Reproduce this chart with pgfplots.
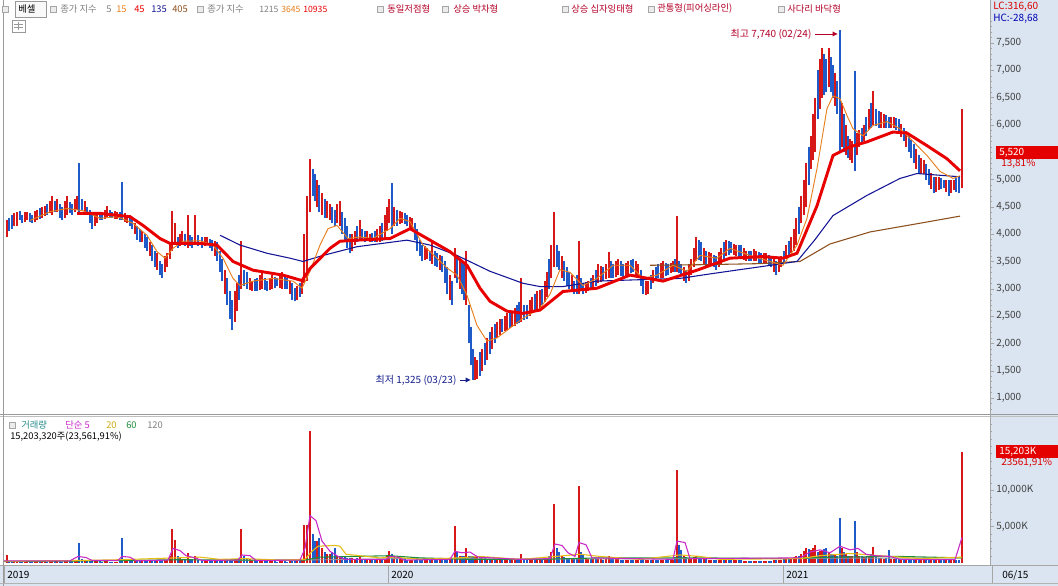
\documentclass[border=0pt]{standalone}
\usepackage{fontspec}
\setmainfont{Noto Sans CJK KR}
\usepackage{pgfplots}
\usepackage{pgfplotstable}
\pgfplotsset{compat=1.18}
\usetikzlibrary{arrows.meta}
\definecolor{panel}{RGB}{219,229,241}
\definecolor{cR}{RGB}{214,24,24}
\definecolor{cB}{RGB}{30,90,200}
\definecolor{maR}{RGB}{232,0,0}
\definecolor{maB}{RGB}{20,20,150}
\definecolor{maBr}{RGB}{140,80,30}
\definecolor{maO}{RGB}{232,128,30}
\definecolor{vM}{RGB}{200,40,200}
\definecolor{vY}{RGB}{230,190,20}
\definecolor{vG}{RGB}{30,140,60}
\definecolor{vGr}{RGB}{150,150,150}
\definecolor{txtR}{RGB}{180,0,40}
\definecolor{txtB}{RGB}{20,30,140}
\definecolor{teal}{RGB}{40,140,140}

% t lo hi volume(K) up(1)/down(0)
\pgfplotstableread{
t lo hi v c
7 3950 4250 1100 1
9 4050 4300 300 0
12 4100 4350 300 0
14 4150 4380 250 1
17 4150 4400 250 1
20 4250 4420 200 0
22 4200 4350 200 0
25 4220 4400 220 1
27 4250 4400 250 1
30 4230 4380 200 0
32 4200 4350 180 0
35 4230 4420 200 1
37 4250 4450 220 1
40 4280 4480 230 0
42 4300 4500 250 1
45 4330 4520 220 1
47 4350 4550 200 0
50 4380 4600 250 1
52 4350 4700 350 1
55 4400 4600 230 0
57 4400 4650 250 1
60 4300 4550 220 0
62 4250 4500 200 0
65 4300 4600 250 1
67 4350 4690 300 1
70 4380 4580 220 0
72 4350 4550 220 0
75 4400 4650 300 1
77 4450 4700 350 1
79 4400 5300 2740 0
82 4450 4650 600 0
85 4400 4600 450 1
87 4350 4500 400 0
90 4200 4450 380 0
92 4100 4350 350 0
95 4150 4350 280 1
97 4200 4350 250 1
100 4250 4400 220 0
102 4250 4400 200 0
105 4280 4450 230 1
107 4300 4520 250 1
110 4300 4450 200 0
112 4300 4400 180 0
115 4280 4420 190 1
117 4280 4400 200 1
120 4250 4400 300 0
122 4250 4950 3420 0
125 4220 4380 600 1
127 4200 4350 500 1
130 4150 4320 350 0
132 4100 4300 300 0
135 4000 4200 300 1
137 3900 4150 300 0
140 3850 4100 280 0
142 3850 4050 250 1
145 3750 4000 280 0
147 3700 3950 300 0
150 3600 3850 320 1
152 3500 3800 350 0
155 3400 3700 320 0
157 3350 3650 300 1
160 3250 3500 350 0
162 3200 3450 400 0
165 3300 3600 420 1
167 3400 3650 450 1
170 3550 3850 900 1
172 3700 4430 4660 1
175 3800 4200 3150 1
178 3750 3950 900 0
180 3780 4000 700 1
182 3800 4050 600 1
185 3780 4000 500 0
188 3750 4350 1370 1
190 3780 3980 600 0
192 3750 3950 500 0
195 3800 4350 960 1
198 3780 3980 450 0
202 3750 3950 400 0
205 3780 3950 350 1
207 3800 3950 300 1
210 3750 3920 280 0
212 3700 3900 250 0
215 3600 3880 280 1
217 3500 3850 300 0
220 3300 3700 320 0
222 3150 3550 350 0
225 2900 3350 380 1
227 2700 3200 400 0
230 2450 2950 450 0
232 2250 2800 500 0
235 2400 2950 550 1
237 2600 3100 600 1
239 2800 3250 700 0
241 3000 3870 4660 1
244 3050 3350 900 0
247 3000 3300 700 0
250 2980 3200 500 1
252 2950 3150 400 1
255 2950 3180 350 0
257 2950 3200 300 0
260 2980 3250 300 1
262 3000 3300 300 1
265 2970 3200 280 0
267 2950 3150 250 0
270 2980 3200 250 1
272 3000 3250 250 1
275 3020 3220 220 0
277 3050 3200 200 0
280 3020 3250 220 1
282 3000 3300 250 1
285 3000 3250 220 0
287 3000 3200 200 0
290 2900 3150 250 1
292 2800 3100 300 0
295 2780 3020 300 0
297 2800 3050 300 1
300 2850 3100 400 0
302 2900 3150 500 1
304 3100 4000 5200 1
307 3150 4700 5200 1
310 4400 5380 18080 1
313 4700 5200 4000 0
315 4600 5100 3000 0
317 4500 5000 3000 1
319 4400 4900 3420 0
322 4350 4750 2000 1
325 4300 4650 1500 0
327 4300 4600 1300 1
330 4250 4550 1200 1
332 4200 4500 1500 0
335 4150 4450 2050 0
337 4200 4550 1000 1
340 4150 4600 900 1
342 4000 4400 850 0
345 3900 4300 800 0
347 3750 4150 750 0
350 3650 4000 700 0
352 3700 4000 650 1
355 3800 4050 600 1
357 3850 4150 700 0
360 3900 4250 800 1
362 3880 4100 600 0
365 3850 4050 500 0
367 3870 4050 450 1
370 3850 4000 400 1
372 3850 4020 400 0
375 3850 4050 400 0
377 3850 4100 450 1
380 3850 4150 500 1
382 3880 4200 550 0
385 3900 4350 600 1
387 4050 4500 1000 1
389 4200 4650 1640 1
392 4000 4930 1200 0
394 4150 4500 900 1
397 4150 4450 700 0
400 4180 4420 600 1
402 4200 4400 500 1
405 4180 4380 480 0
407 4150 4350 450 0
410 4120 4320 420 1
412 4100 4300 400 1
415 3900 4200 450 0
417 3700 4100 500 0
420 3600 3900 480 0
422 3500 3800 450 0
425 3520 3780 420 1
427 3550 3750 400 1
430 3500 3700 420 0
432 3450 3890 500 1
435 3420 3700 450 0
437 3400 3650 400 0
440 3350 3620 420 1
442 3300 3600 450 0
445 3100 3500 520 0
447 2900 3400 600 0
450 2800 3250 650 1
452 2700 3150 700 0
455 3200 3740 5070 1
457 3100 3600 1500 0
460 3000 3550 1000 1
462 2900 3500 900 0
464 2800 3450 1000 0
466 2700 3700 2100 1
469 2000 2700 1000 0
471 1600 2300 950 0
473 1325 1900 900 0
475 1330 1750 850 1
477 1350 1700 800 1
480 1400 1850 750 0
482 1500 1900 700 1
485 1600 2000 650 0
487 1700 2100 600 1
490 1800 2200 600 0
492 1900 2300 600 1
495 2000 2350 550 0
497 2100 2400 500 1
500 2150 2450 450 1
502 2200 2450 400 0
505 2230 2500 450 1
507 2250 2550 500 1
510 2280 2580 480 0
512 2300 2600 500 1
515 2320 2650 450 1
517 2350 2700 400 0
519 2380 2750 600 0
521 2400 3190 1200 1
524 2420 2700 500 0
527 2450 2700 400 0
530 2500 2800 450 1
532 2550 2850 500 1
535 2580 2900 450 0
537 2600 2950 500 1
540 2650 2980 450 1
542 2700 3000 400 0
545 2750 3150 550 1
547 2850 3300 700 1
549 3000 3550 900 0
551 3200 3800 1500 1
554 3400 4410 8080 1
557 3400 3800 2000 0
559 3350 3700 1500 0
562 3200 3600 1000 1
564 3150 3500 800 0
567 3050 3400 700 0
569 3000 3300 600 0
572 2950 3250 550 1
574 2900 3150 500 0
577 2900 3250 700 0
579 2900 3870 10550 1
581 2950 3200 1500 0
583 2900 3100 1200 0
586 2920 3120 700 1
588 2950 3150 600 1
591 2970 3200 550 0
593 3000 3250 500 1
596 3050 3350 550 0
598 3100 3450 600 1
601 3120 3420 500 1
603 3150 3400 400 0
606 3180 3450 600 1
609 3200 3680 1000 1
611 3200 3500 700 0
613 3200 3450 500 0
616 3220 3500 500 1
618 3250 3550 500 1
621 3230 3500 450 0
623 3200 3450 400 0
626 3220 3480 400 1
628 3250 3500 400 1
631 3280 3520 380 0
633 3300 3550 350 0
636 3250 3500 350 1
638 3200 3450 350 1
641 3050 3350 450 0
643 2900 3200 500 0
646 2880 3150 450 1
648 2900 3150 400 1
651 3000 3250 400 0
653 3100 3350 400 1
656 3150 3400 380 0
658 3200 3450 350 0
661 3200 3480 380 1
663 3200 3500 400 1
666 3230 3470 380 0
668 3250 3450 350 0
671 3280 3480 380 1
673 3300 3500 400 1
675 3300 3550 800 0
677 3300 4340 12740 1
679 3280 3500 2500 0
681 3250 3450 1800 0
684 3150 3400 1000 1
686 3100 3350 800 0
689 3150 3450 700 1
691 3250 3550 600 1
694 3400 3750 800 1
696 3500 3950 900 1
699 3520 3900 700 0
701 3500 3850 600 0
704 3450 3750 550 1
706 3400 3700 500 0
709 3420 3680 450 1
711 3450 3650 400 1
714 3400 3620 400 0
716 3350 3600 400 0
719 3400 3680 450 1
721 3450 3750 500 1
724 3550 3850 550 0
726 3600 3900 600 1
729 3620 3880 500 0
731 3650 3850 400 0
734 3620 3820 380 1
736 3600 3800 350 1
739 3570 3800 350 0
741 3550 3800 350 0
744 3520 3750 320 1
746 3500 3700 300 1
749 3500 3700 300 0
751 3500 3700 300 0
754 3500 3720 300 1
756 3500 3700 300 1
759 3470 3680 300 0
761 3450 3650 300 0
764 3450 3660 300 1
766 3450 3650 300 1
769 3420 3620 300 0
771 3400 3600 300 0
774 3300 3550 350 1
776 3250 3500 400 0
779 3300 3550 400 1
781 3400 3600 400 1
784 3480 3700 500 0
786 3550 3800 600 1
789 3600 3880 650 0
791 3650 3950 700 1
794 3700 4100 800 1
796 3800 4300 900 1
799 4000 4500 1000 0
801 4200 4700 1200 1
804 4350 5000 1600 1
806 4500 5300 2050 1
809 4900 5600 1900 0
811 5200 5800 1800 1
813 5350 6200 2100 1
815 5500 6500 2460 1
818 6100 7000 1500 0
820 6300 7200 1700 1
822 6500 7400 1800 1
824 6550 7300 1900 0
826 6600 7200 2050 0
829 6700 7400 1500 1
831 6600 7250 1300 0
833 6500 7100 1200 0
835 6350 6950 1100 1
837 6200 6800 1000 0
840 5500 7740 6160 0
842 5600 6400 2000 1
844 5500 6200 1500 0
846 5450 6000 1200 1
848 5400 5800 1000 0
850 5350 5750 950 1
852 5300 5700 900 1
855 5150 6990 5750 0
857 5450 5850 1500 1
859 5600 5900 1000 1
862 5650 5950 900 0
864 5700 6000 800 1
866 5800 6150 850 0
869 5900 6300 900 1
871 5950 6400 1200 0
873 6000 6620 2200 1
876 5980 6300 900 0
879 5950 6250 700 0
881 5950 6230 650 1
884 5950 6200 600 1
886 5950 6180 700 0
889 5950 6150 1800 0
891 5950 6150 600 1
894 5950 6150 500 1
896 5900 6120 500 0
899 5850 6100 500 0
901 5780 6020 500 1
904 5700 5950 500 0
906 5600 5880 550 1
909 5500 5800 600 0
911 5400 5720 600 0
914 5300 5650 600 0
916 5200 5550 650 1
919 5100 5450 700 0
921 5100 5400 600 1
924 5100 5350 500 1
926 5000 5280 550 0
929 4900 5200 600 0
931 4820 5120 550 1
934 4750 5050 500 0
936 4780 5050 450 1
939 4800 5050 400 1
941 4820 5020 380 0
944 4850 5000 350 0
946 4780 5000 380 1
949 4700 5000 400 0
951 4750 5000 380 1
954 4800 5000 350 1
956 4770 5030 380 0
959 4750 5050 400 0
962 4850 6300 15203 1
}\candles

\pgfplotsset{
  candle/.style={draw=none, mark=none, forget plot,
    error bars/.cd, y dir=both, y explicit, error mark=none,
    error bar style={draw=#1, line width=1.15pt}},
  rightax/.style={scale only axis, anchor=south west, width=739.5pt,
    xmin=4, xmax=990, axis x line=none, axis y line*=right,
    y axis line style={gray!70}, tick align=outside,
    major tick length=3pt, minor tick length=1.8pt,
    ytick style={gray!70}, minor tick style={gray!60},
    scaled y ticks=false,
    yticklabel style={font=\fontsize{7.5}{8}\selectfont, text=black!75, inner sep=1.5pt},
    /pgf/number format/1000 sep={,}, /pgf/number format/assume math mode=true,
    clip=true}
}

\begin{document}
\begin{tikzpicture}[x=0.75pt,y=0.75pt,font=\fontsize{7}{8}\selectfont]
\useasboundingbox (0,0) rectangle (1058,586);
\fill[white] (0,0) rectangle (1058,586);
\fill[panel] (990,21) rectangle (1058,586);
\fill[panel] (0,0) rectangle (1058,21);

% ---------- price ----------
\begin{axis}[rightax, at={(3pt,129pt)}, height=295.5pt, ymin=707, ymax=7921,
  ytick={1000,1500,2000,2500,3000,3500,4000,4500,5000,6000,6500,7000,7500}, minor ytick={800,900,...,7900}]
\addplot[restrict expr to domain={\thisrow{c}}{0.5:1.5}, candle=cR] table[x=t, y expr={(\thisrow{lo}+\thisrow{hi})/2}, y error expr={(\thisrow{hi}-\thisrow{lo})/2}]{\candles};
\addplot[restrict expr to domain={\thisrow{c}}{-0.5:0.5}, candle=cB] table[x=t, y expr={(\thisrow{lo}+\thisrow{hi})/2}, y error expr={(\thisrow{hi}-\thisrow{lo})/2}]{\candles};
% MA 405
\addplot[maBr, line width=0.8pt] coordinates {(650,3430)(700,3440)(760,3460)(800,3500)(830,3820)(870,4040)(920,4200)(960,4330)};
% MA 135
\addplot[maB, line width=0.8pt] coordinates {(220,3980)(240,3800)(267,3650)(290,3560)(303,3500)(323,3610)(357,3770)(407,3890)(430,3800)(457,3610)(490,3320)(523,3100)(540,3040)(563,3040)(597,3140)(630,3160)(680,3190)(713,3280)(763,3410)(797,3500)(815,3900)(833,4340)(867,4710)(900,5020)(917,5110)(960,5050)};
% MA 15
\addplot[maO, line width=0.7pt] coordinates {(30,4250)(40,4330)(50,4410)(67,4470)(83,4430)(100,4290)(117,4320)(133,4200)(147,3980)(157,3680)(165,3560)(173,3740)(183,3870)(200,3880)(213,3800)(223,3560)(233,3190)(240,3060)(253,3140)(273,3190)(293,3140)(302,3010)(310,3320)(320,3800)(328,4100)(337,4160)(348,3920)(360,3950)(373,3920)(390,4100)(400,4290)(410,4230)(423,3800)(437,3560)(447,3380)(457,3250)(467,2880)(477,2330)(487,2040)(497,2100)(510,2280)(523,2460)(540,2640)(550,2900)(560,3350)(570,3300)(583,3060)(597,3190)(613,3430)(630,3430)(643,3190)(657,3250)(673,3430)(687,3320)(700,3610)(717,3560)(730,3740)(750,3610)(770,3500)(783,3430)(797,3800)(807,4290)(817,5200)(827,6300)(833,6530)(840,6480)(847,6170)(853,5930)(863,5800)(873,5990)(887,6060)(900,5930)(913,5700)(927,5440)(940,5150)(953,5020)(960,5070)};
% MA 45
\addplot[maR, line width=2.2pt] coordinates {(77,4380)(100,4380)(130,4320)(143,4160)(160,3920)(170,3830)(200,3830)(217,3800)(233,3500)(253,3340)(283,3250)(302,3150)(310,3370)(330,3740)(340,3870)(357,3890)(390,3920)(410,4100)(430,3890)(450,3680)(467,3430)(480,3010)(490,2770)(507,2590)(523,2550)(540,2610)(563,2950)(597,3010)(630,3250)(663,3140)(697,3340)(730,3560)(763,3590)(783,3560)(797,3650)(817,4520)(833,5440)(850,5600)(867,5690)(893,5870)(907,5850)(927,5620)(947,5380)(960,5160)};
\draw[-{Latex[length=4pt,width=4pt]}, txtR, line width=0.7pt] (axis cs:815,7665) -- (axis cs:838,7665);
\node[anchor=east, text=txtR, inner sep=1pt, font=\fontsize{7.5}{8}\selectfont] at (axis cs:813,7665) {최고 7,740 (02/24)};
\draw[-{Latex[length=4pt,width=4pt]}, txtB, line width=0.7pt] (axis cs:460,1330) -- (axis cs:471,1330);
\node[anchor=east, text=txtB, inner sep=1pt, font=\fontsize{7.5}{8}\selectfont] at (axis cs:458,1330) {최저 1,325 (03/23)};
\end{axis}

% ---------- volume ----------
\begin{axis}[rightax, at={(3pt,15.75pt)}, height=111.75pt, ymin=-274, ymax=20137,
  ytick={5000,10000}, minor ytick={1000,2000,3000,4000,6000,7000,8000,9000,11000,12000,13000,14000,15000,16000,17000,18000,19000},
  yticklabel={\pgfmathprintnumber{\tick}K}]
\addplot[ycomb, cR, line width=0.9pt, restrict expr to domain={\thisrow{c}}{0.5:1.5}] table[x=t, y=v]{\candles};
\addplot[ycomb, cB, line width=0.9pt, restrict expr to domain={\thisrow{c}}{-0.5:0.5}] table[x=t, y=v]{\candles};
\addplot[vGr, line width=0.7pt] coordinates {(220,350)(330,450)(420,650)(500,550)(600,550)(700,600)(830,650)(962,700)};
\addplot[vG, line width=0.8pt] coordinates {(4,200)(100,300)(180,450)(250,400)(305,400)(320,800)(390,1000)(420,700)(470,500)(540,500)(600,700)(700,700)(790,600)(830,800)(900,900)(962,700)};
\addplot[vY, line width=0.8pt] coordinates {(4,250)(80,350)(120,450)(175,700)(200,800)(220,500)(245,600)(280,400)(305,500)(312,1600)(318,2300)(335,2400)(340,2300)(346,1200)(380,700)(395,800)(420,500)(458,700)(480,900)(520,500)(556,900)(580,1200)(600,900)(640,500)(680,1100)(700,900)(720,500)(800,600)(820,1000)(850,1300)(880,1000)(920,600)(962,800)};
\addplot[vM, line width=0.8pt] coordinates {(4,300)(70,300)(78,900)(86,750)(92,350)(118,350)(122,900)(130,800)(136,300)(168,400)(173,2000)(180,1700)(186,1000)(195,700)(202,350)(238,400)(242,1100)(250,1000)(256,350)(300,400)(305,2000)(310,6500)(316,5800)(322,3000)(330,1600)(338,900)(345,500)(386,500)(390,900)(398,800)(404,400)(450,500)(455,1600)(462,1400)(470,1500)(478,800)(520,500)(550,600)(555,2600)(562,2400)(568,1400)(575,900)(579,2800)(586,2500)(592,700)(673,500)(677,3000)(685,2800)(690,600)(800,700)(810,1500)(820,1800)(830,1400)(840,2300)(850,1800)(858,2000)(866,1200)(875,1000)(890,900)(900,500)(955,450)(962,3500)};
\end{axis}

% ---------- frame lines ----------
\draw[gray!80, line width=0.6pt] (0,172) -- (1058,172);
\draw[gray!50, line width=0.6pt] (0,170) -- (1058,170);
\draw[gray!80, line width=0.6pt] (3,0) -- (3,586);
\draw[gray!70, line width=0.6pt] (0,21) -- (1058,21);
\draw[gray!70] (990,21) -- (990,586);
\foreach \sx in {4,388,783,992} \draw[gray!70] (\sx,21) -- (\sx,3);
\draw[gray!60] (0,3) -- (1058,3);
\node[anchor=west, inner sep=0pt, font=\fontsize{7.5}{8}\selectfont] at (7,11) {2019};
\node[anchor=west, inner sep=0pt, font=\fontsize{7.5}{8}\selectfont] at (391,11) {2020};
\node[anchor=west, inner sep=0pt, font=\fontsize{7.5}{8}\selectfont] at (786,11) {2021};
\node[anchor=west, inner sep=0pt, font=\fontsize{7.5}{8}\selectfont] at (1002,11) {06/15};

% ---------- header ----------
\foreach \sx in {5,53,200,380,445,565,651,781} \draw[gray!70, fill=gray!15] (\sx-3,574) rectangle (\sx+3,580);
\draw[gray!80, fill=gray!5] (15,569) rectangle (46,585);
\node[anchor=west, inner sep=0pt] at (18,577) {베셀};
\draw[gray!80, fill=white] (12,554) rectangle (25,566);
\draw[gray!80] (14,562) -- (23,562) (14,559) -- (23,559) (18.5,564) -- (18.5,556);
\node[anchor=west, inner sep=0pt, text=gray] at (60,577) {종가 지수};
\node[anchor=west, inner sep=0pt, text=gray] at (106,577) {5};
\node[anchor=west, inner sep=0pt, text=maO] at (116,577) {15};
\node[anchor=west, inner sep=0pt, text=maR] at (134,577) {45};
\node[anchor=west, inner sep=0pt, text=maB] at (151,577) {135};
\node[anchor=west, inner sep=0pt, text=maBr] at (172,577) {405};
\node[anchor=west, inner sep=0pt, text=gray] at (207,577) {종가 지수};
\node[anchor=west, inner sep=0pt, text=gray, font=\fontsize{6.5}{7}\selectfont] at (259,577) {1215};
\node[anchor=west, inner sep=0pt, text=maO, font=\fontsize{6.5}{7}\selectfont] at (281,577) {3645};
\node[anchor=west, inner sep=0pt, text=maR, font=\fontsize{6.5}{7}\selectfont] at (303,577) {10935};
\node[anchor=west, inner sep=0pt, text=txtR] at (387,577) {동일저점형};
\node[anchor=west, inner sep=0pt, text=txtR] at (453,577) {상승 박차형};
\node[anchor=west, inner sep=0pt, text=txtR] at (571,577) {상승 십자잉태형};
\node[anchor=west, inner sep=0pt, text=txtR] at (657,577) {관통형(피어싱라인)};
\node[anchor=west, inner sep=0pt, text=txtR] at (787,577) {사다리 바닥형};
\node[anchor=west, inner sep=0pt, text=red!85!black, font=\fontsize{7.5}{8}\selectfont] at (993,579) {LC:316,60};
\node[anchor=west, inner sep=0pt, text=blue!70!black, font=\fontsize{7.5}{8}\selectfont] at (993,567) {HC:-28,68};

% ---------- right value boxes ----------
\fill[red!90!black] (996,427) rectangle (1058,440);
\node[anchor=west, inner sep=0pt, text=white, font=\fontsize{7.5}{8}\selectfont] at (999,433.5) {5,520};
\node[anchor=west, inner sep=0pt, text=red!85!black, font=\fontsize{7.5}{8}\selectfont] at (1001,422) {13,81\%};
\fill[red!90!black] (996,128) rectangle (1058,141);
\node[anchor=west, inner sep=0pt, text=white, font=\fontsize{7.5}{8}\selectfont] at (999,134.5) {15,203K};
\begin{scope}
\clip (990,116) rectangle (1054,128);
\node[anchor=west, inner sep=0pt, text=red!85!black, font=\fontsize{7.5}{8}\selectfont] at (1001,123) {23561,91\%};
\end{scope}

% ---------- volume legend ----------
\draw[gray!70, fill=gray!15] (9,158) rectangle (15,164);
\node[anchor=west, inner sep=0pt, text=teal] at (21,161) {거래량};
\node[anchor=west, inner sep=0pt, text=vM] at (65,161) {단순 5};
\node[anchor=west, inner sep=0pt, text=vY!90!black] at (106,161) {20};
\node[anchor=west, inner sep=0pt, text=vG] at (126,161) {60};
\node[anchor=west, inner sep=0pt, text=gray] at (147,161) {120};
\node[anchor=west, inner sep=0pt] at (10,149) {15,203,320주(23,561,91\%)};
\end{tikzpicture}
\end{document}
